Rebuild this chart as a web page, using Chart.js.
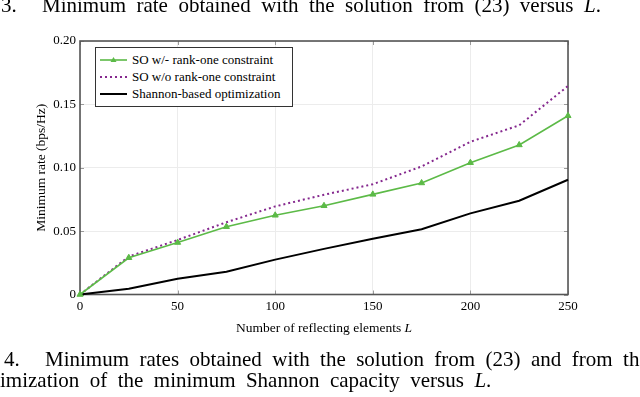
<!DOCTYPE html>
<html>
<head>
<meta charset="utf-8">
<script src="https://cdn.jsdelivr.net/npm/chart.js@4.4.0/dist/chart.umd.min.js"></script>
<style>
  html, body { margin: 0; padding: 0; background: #fff; }
  body {
    width: 640px; height: 397px; position: relative; overflow: hidden;
    font-family: "Liberation Serif", "Times New Roman", serif; color: #000;
  }
  #chart { position: absolute; left: 0; top: 0; }
  .cap { position: absolute; font-size: 21px; line-height: 21px; white-space: nowrap; word-spacing: 5.2px; }
  .xtitle { position: absolute; left: 224px; width: 200px; top: 320px; text-align: center; font-size: 13.5px; line-height: 16px; white-space: nowrap; }
  .legend {
    position: absolute; left: 95px; top: 47px; width: 198px; height: 60px;
    border: 1px solid #333; background: #fff; box-sizing: border-box; font-size: 13px;
  }
  .legend .row { position: absolute; left: 4px; height: 16px; line-height: 16px; white-space: nowrap; }
  .legend svg { vertical-align: middle; margin-right: 5px; position: relative; top: -1px; }
</style>
</head>
<body>
<canvas id="chart" width="640" height="397"></canvas>

<div class="cap" style="left:1px; top:-5px;">3.</div>
<div class="cap" style="left:42px; top:-5px;">Minimum rate obtained with the solution from (23) versus <i>L</i>.</div>

<div class="legend" id="legend"></div>
<div class="xtitle">Number of reflecting elements <i>L</i></div>

<div class="cap" style="left:4px; top:349px;">4.</div>
<div class="cap" style="left:45px; top:349px;">Minimum rates obtained with the solution from (23) and from the</div>
<div class="cap" style="left:0px; top:370px;">imization of the minimum Shannon capacity versus <i>L</i>.</div>

<script>
// number of reflecting elements L
const elements = [0, 25, 50, 75, 100, 125, 150, 175, 200, 225, 250];

// minimum rate (bps/Hz)
const rateRankOne   = [0, 0.029, 0.041, 0.0535, 0.0625, 0.070, 0.079, 0.088, 0.104, 0.118, 0.141];
const rateNoRankOne = [0, 0.030, 0.043, 0.057, 0.0695, 0.0787, 0.087, 0.101, 0.1205, 0.1335, 0.1645];
const rateShannon   = [0, 0.0045, 0.0125, 0.018, 0.0275, 0.036, 0.044, 0.0515, 0.064, 0.074, 0.0905];

const seriesLabels = ['SO w/- rank-one constraint', 'SO w/o rank-one constraint', 'Shannon-based optimization'];
const seriesColors = ['#5cba47', '#85288e', '#000000'];

const xTicks = [0, 50, 100, 150, 200, 250];
const yTicks = [0, 0.05, 0.10, 0.15, 0.20];
const yTickLabels = ['0', '0.05', '0.10', '0.15', '0.20'];

const serif = "'Liberation Serif', 'Times New Roman', serif";

function points(values) {
    return elements.map((x, i) => ({ x, y: values[i] }));
}

// pgfplots style box with small inner ticks
const framePlugin = {
    id: 'frame',
    beforeDatasetsDraw(chart) {
        const { ctx, chartArea: a, scales } = chart;
        ctx.save();
        ctx.strokeStyle = '#9a9a9a';
        ctx.lineWidth = 1;
        const len = 4;
        xTicks.forEach(v => {
            const px = Math.round(scales.x.getPixelForValue(v)) + 0.5;
            ctx.beginPath();
            ctx.moveTo(px, a.top); ctx.lineTo(px, a.top + len);
            ctx.moveTo(px, a.bottom); ctx.lineTo(px, a.bottom - len);
            ctx.stroke();
        });
        yTicks.forEach(v => {
            const py = Math.round(scales.y.getPixelForValue(v)) + 0.5;
            ctx.beginPath();
            ctx.moveTo(a.left, py); ctx.lineTo(a.left + len, py);
            ctx.moveTo(a.right, py); ctx.lineTo(a.right - len, py);
            ctx.stroke();
        });
        ctx.strokeStyle = '#555';
        ctx.lineWidth = 1.6;
        ctx.strokeRect(a.left, a.top, a.right - a.left, a.bottom - a.top);
        ctx.restore();
    }
};

const chart = new Chart(document.getElementById('chart').getContext('2d'), {
    type: 'line',
    data: {
        datasets: [
            {
                label: seriesLabels[0],
                data: points(rateRankOne),
                borderColor: seriesColors[0],
                backgroundColor: seriesColors[0],
                borderWidth: 1.6,
                pointStyle: 'triangle',
                pointRadius: 3.5,
                pointBorderWidth: 1,
                clip: false,
                order: 1
            },
            {
                label: seriesLabels[1],
                data: points(rateNoRankOne),
                borderColor: seriesColors[1],
                borderWidth: 2,
                borderDash: [2, 3],
                pointRadius: 0,
                clip: false,
                order: 2
            },
            {
                label: seriesLabels[2],
                data: points(rateShannon),
                borderColor: seriesColors[2],
                borderWidth: 2,
                pointRadius: 0,
                clip: false,
                order: 3
            }
        ]
    },
    options: {
        responsive: false,
        animation: false,
        layout: { padding: { left: 33, top: 41, right: 72, bottom: 72 } },
        plugins: {
            legend: { display: false },
            tooltip: { enabled: false }
        },
        scales: {
            x: {
                type: 'linear',
                min: 0,
                max: 250,
                afterBuildTicks: s => { s.ticks = xTicks.map(v => ({ value: v })); },
                afterFit: s => { s.height = 30.5; },
                border: { display: false },
                grid: { color: '#ececec', drawTicks: false },
                ticks: {
                    color: '#000', padding: 4, maxRotation: 0, autoSkip: false,
                    font: { family: serif, size: 13 }
                }
            },
            y: {
                type: 'linear',
                min: 0,
                max: 0.2,
                afterBuildTicks: s => { s.ticks = yTicks.map(v => ({ value: v })); },
                afterFit: s => { s.width = 47; },
                border: { display: false },
                grid: { color: '#ececec', drawTicks: false },
                ticks: {
                    color: '#000', padding: 4,
                    font: { family: serif, size: 13 },
                    callback: v => yTickLabels[yTicks.indexOf(v)]
                },
                title: {
                    display: true,
                    text: 'Minimum rate (bps/Hz)',
                    color: '#000',
                    padding: 0,
                    font: { family: serif, size: 13.5 }
                }
            }
        }
    },
    plugins: [framePlugin]
});

// legend built from the datasets
const legend = document.getElementById('legend');
chart.data.datasets.forEach((ds, i) => {
    const c = ds.borderColor;
    let sample = '<line x1="0" y1="4" x2="27" y2="4" stroke="' + c + '" stroke-width="' + ds.borderWidth + '"' +
        (ds.borderDash ? ' stroke-dasharray="' + ds.borderDash.join(' ') + '"' : '') + '/>';
    if (ds.pointStyle === 'triangle') {
        sample += '<polygon points="13.5,1 16.5,6 10.5,6" fill="' + c + '"/>';
    }
    const row = document.createElement('div');
    row.className = 'row';
    row.style.top = (4 + i * 17) + 'px';
    row.innerHTML = '<svg width="27" height="8">' + sample + '</svg>' + ds.label;
    legend.appendChild(row);
});
</script>
</body>
</html>
